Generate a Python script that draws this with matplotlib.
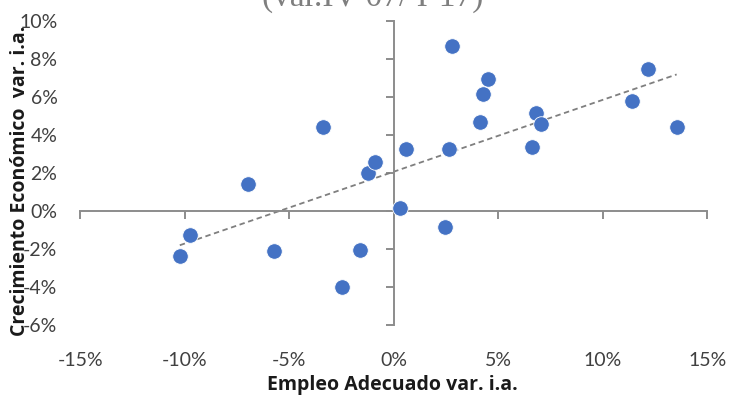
import numpy as np
import matplotlib
matplotlib.use("Agg")
import matplotlib.pyplot as plt
from matplotlib.ticker import FuncFormatter

# Data (percent)
empleo = [-10.24, -9.76, -6.99, -5.74, -3.40, -2.49, -1.63, -1.24, -0.91, 0.29,
          0.57, 2.44, 2.63, 2.78, 4.50, 4.27, 4.11, 6.79, 7.02, 6.62,
          11.40, 12.17, 13.53]
crecimiento = [-2.37, -1.26, 1.42, -2.10, 4.42, -4.00, -2.05, 2.00, 2.58, 0.16,
               3.26, -0.84, 3.26, 8.68, 6.95, 6.16, 4.68, 5.14, 4.58, 3.37,
               5.79, 7.47, 4.41]

x_ticks = [-15, -10, -5, 0, 5, 10, 15]
y_ticks = [-6, -4, -2, 0, 2, 4, 6, 8, 10]

title_text = "(var.IV-07/ I-17)"
x_label = "Empleo Adecuado var. i.a."
y_label = "Crecimiento Económico  var. i.a."

plt.rcParams['font.family'] = ['Lato', 'DejaVu Sans']

fig = plt.figure(figsize=(7.3, 3.99), dpi=100)
rect = [0.110, 0.185, 0.859, 0.762]
ax = fig.add_axes(rect)
ax.set_xlim(-15, 15)
ax.set_ylim(-6, 10)

pct = FuncFormatter(lambda v, p: f"{v:.0f}%")

# Background axes: tick labels at the low sides
ax.set_xticks(x_ticks)
ax.set_yticks(y_ticks)
ax.xaxis.set_major_formatter(pct)
ax.yaxis.set_major_formatter(pct)
for s in ax.spines.values():
    s.set_visible(False)
ax.tick_params(length=0, labelsize=14, colors='#404040')
ax.tick_params(axis='x', pad=19)
ax.tick_params(axis='y', pad=16.5)

# Overlay axes with spines through origin
ax2 = fig.add_axes(rect, sharex=ax, sharey=ax)
ax2.patch.set_visible(False)
for side in ['top', 'right']:
    ax2.spines[side].set_visible(False)
ax2.spines['left'].set_position(('data', 0))
ax2.spines['bottom'].set_position(('data', 0))
for side in ['left', 'bottom']:
    ax2.spines[side].set_color('#8c8c8c')
    ax2.spines[side].set_linewidth(1.4)
ax2.tick_params(direction='out', length=5.5, width=1.4, color='#8c8c8c',
                labelleft=False, labelbottom=False)

# Trend line
xs = np.array(empleo)
ys = np.array(crecimiento)
m, b = np.polyfit(xs, ys, 1)
xl = np.array([xs.min(), xs.max()])
ax2.plot(xl, m * xl + b, linestyle=(0, (3, 2)), color='#7f7f7f', linewidth=1.3, zorder=2)

ax2.scatter(xs, ys, s=125, color='#4472C4', edgecolors='white', linewidths=0.6, zorder=3)

label_font = ['Open Sans', 'DejaVu Sans']
fig.text(0.537, 0.022, x_label, ha='center', va='baseline', fontsize=14,
         fontweight='bold', color='#1a1a1a', family=label_font)
fig.text(0.027, 0.547, y_label, ha='center', va='center', rotation=90,
         fontsize=14, fontweight='bold', color='#1a1a1a', family=label_font)
fig.text(0.511, 1 - 5.5 / 399, title_text, ha='center', va='baseline', fontsize=24,
         family=['Liberation Serif'], color='#7f7f7f')

fig.savefig('out.png', dpi=100)
